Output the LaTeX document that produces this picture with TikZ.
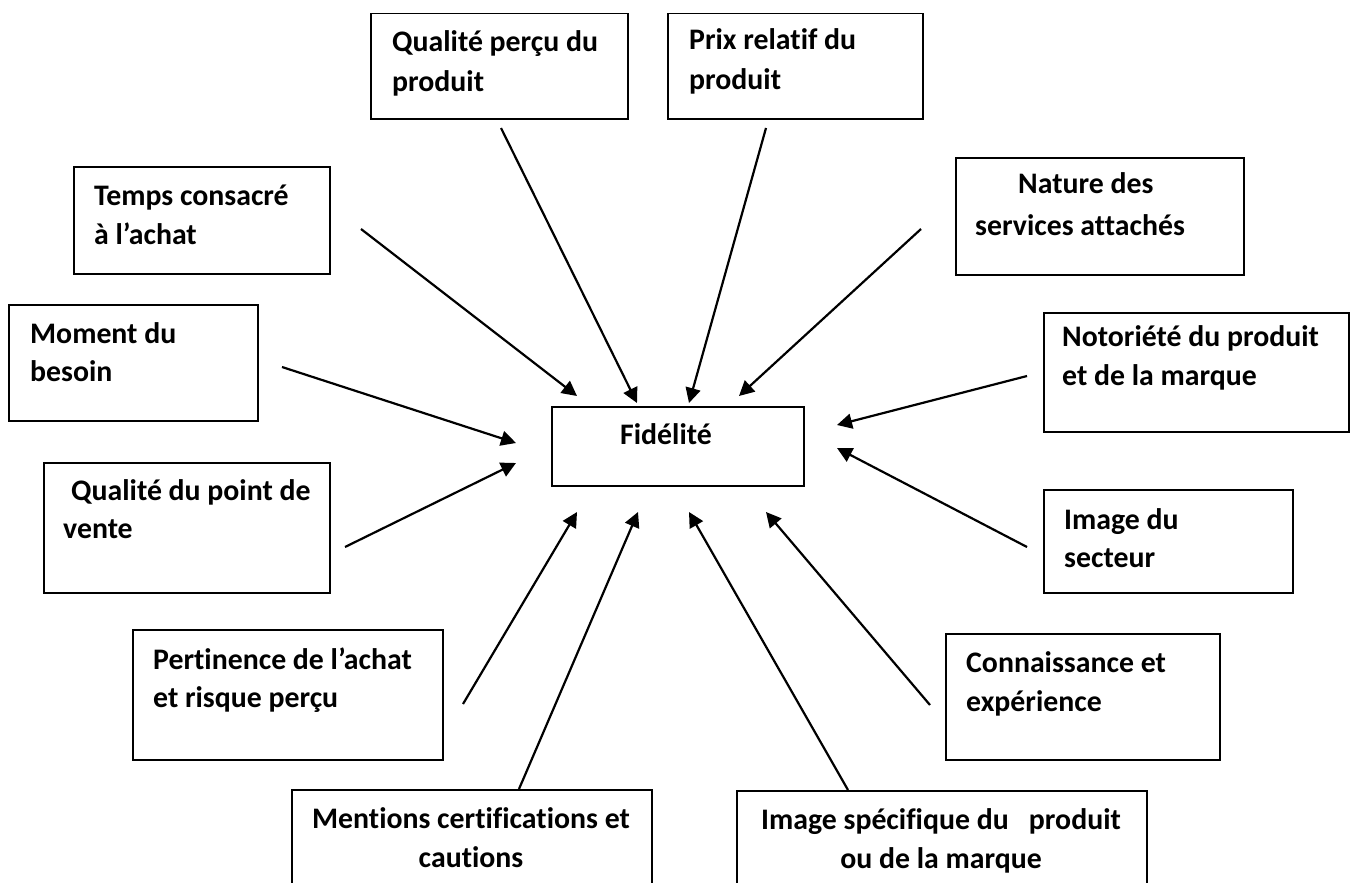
\documentclass[tikz,border=0pt]{standalone}
\usepackage{fontspec}
\setmainfont{Carlito}[Ligatures=NoCommon]
\usetikzlibrary{arrows.meta}

\begin{document}
\begin{tikzpicture}[x=1pt,y=-1pt,
  box/.style={draw, line width=1.5pt, inner sep=0pt, anchor=north west},
  lbl/.style={font=\fontsize{29.8}{39}\selectfont\bfseries, inner sep=0pt, anchor=base west},
  clbl/.style={lbl, anchor=base},
  arr/.style={line width=2.2pt, -{Triangle[length=15pt,width=15pt]}}]

\useasboundingbox (0,0) rectangle (1354,883);
\clip (0,0) rectangle (1354,883);
\fill[white] (0,0) rectangle (1354,883);

% ---- boxes ----
\node[box, minimum width=257pt, minimum height=105pt] (qp) at (370,13) {};
\node[box, minimum width=255pt, minimum height=105pt] (pr) at (667,13) {};
\node[box, minimum width=256pt, minimum height=107pt] (tc) at (73,166) {};
\node[box, minimum width=288pt, minimum height=117pt] (ns) at (955,157) {};
\node[box, minimum width=249pt, minimum height=116pt] (mb) at (8,304) {};
\node[box, minimum width=305pt, minimum height=119pt] (no) at (1043,312) {};
\node[box, minimum width=252pt, minimum height=79pt]  (fi) at (551,406) {};
\node[box, minimum width=286pt, minimum height=130pt] (qv) at (43,462) {};
\node[box, minimum width=249pt, minimum height=103pt] (is) at (1043,489) {};
\node[box, minimum width=310pt, minimum height=130pt] (pe) at (132,629) {};
\node[box, minimum width=274pt, minimum height=126pt] (ce) at (945,633) {};
\node[box, minimum width=360pt, minimum height=130pt] (me) at (291,789) {};
\node[box, minimum width=410pt, minimum height=130pt] (im) at (736,790) {};

% ---- texts ----
\node[lbl] (qp-1) at (392,52) {Qualité perçu du};
\node[lbl] (qp-2) at (392,91) {produit};
\node[lbl] (pr-1) at (689,50) {Prix relatif du};
\node[lbl] (pr-2) at (689,89) {produit};
\node[lbl] (tc-1) at (94,205) {Temps consacré};
\node[lbl] (tc-2) at (94,244) {à l’achat};
\node[lbl] (ns-1) at (1018,193) {Nature des};
\node[lbl] (ns-2) at (975,235) {services attachés};
\node[lbl] (mb-1) at (30,343) {Moment du};
\node[lbl] (mb-2) at (30,381) {besoin};
\node[lbl] (no-1) at (1062,346) {Notoriété du produit};
\node[lbl] (no-2) at (1062,385) {et de la marque};
\node[lbl] (fi-1) at (620,444) {Fidélité};
\node[lbl] (qv-1) at (71,500) {Qualité du point de};
\node[lbl] (qv-2) at (63,538) {vente};
\node[lbl] (is-1) at (1064,529) {Image du};
\node[lbl] (is-2) at (1064,567) {secteur};
\node[lbl] (pe-1) at (153,669) {Pertinence de l’achat};
\node[lbl] (pe-2) at (153,707) {et risque perçu};
\node[lbl] (ce-1) at (966,672) {Connaissance et};
\node[lbl] (ce-2) at (966,711) {expérience};
\node[clbl] (me-1) at (471,828) {Mentions certifications et};
\node[clbl] (me-2) at (471,867) {cautions};
\node[clbl] (im-1) at (941,829) {Image spécifique du\ \ \ produit};
\node[clbl] (im-2) at (941,868) {ou de la marque};

% ---- connector ends ----
\coordinate (tc-s) at (361,229);  \coordinate (tc-e) at (577,396);
\coordinate (qp-s) at (501,128);  \coordinate (qp-e) at (637,403);
\coordinate (pr-s) at (766,128);  \coordinate (pr-e) at (689,403);
\coordinate (ns-s) at (921,229);  \coordinate (ns-e) at (739,396);
\coordinate (mb-s) at (282,367);  \coordinate (mb-e) at (516,443);
\coordinate (qv-s) at (345,547);  \coordinate (qv-e) at (516,463);
\coordinate (no-s) at (1027,376); \coordinate (no-e) at (837,425);
\coordinate (is-s) at (1027,547); \coordinate (is-e) at (837,448);
\coordinate (pe-s) at (463,704);  \coordinate (pe-e) at (577,512);
\coordinate (me-s) at (519,789);  \coordinate (me-e) at (638,512);
\coordinate (im-s) at (848,790);  \coordinate (im-e) at (689,512);
\coordinate (ce-s) at (930,705);  \coordinate (ce-e) at (766,512);

% ---- connectors ----
\foreach \n in {tc,qp,pr,ns,mb,qv,no,is,pe,me,im,ce}
  \draw[arr] (\n-s) -- (\n-e);

\end{tikzpicture}
\end{document}
